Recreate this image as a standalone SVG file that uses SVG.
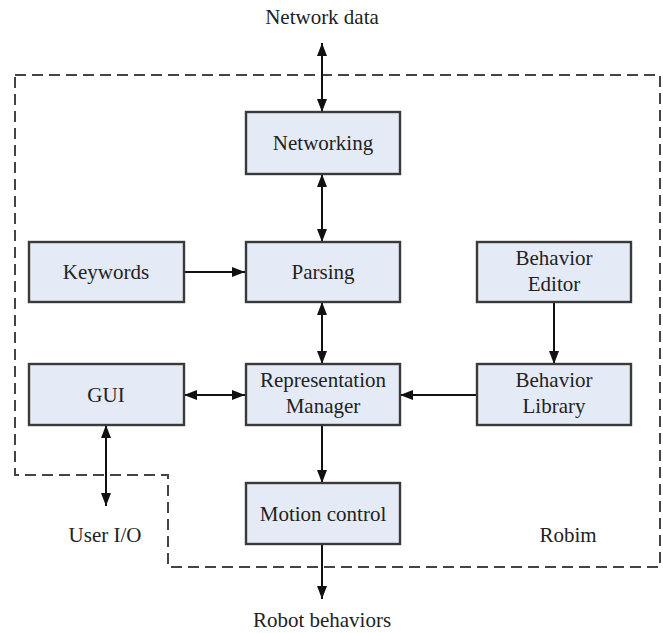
<svg xmlns="http://www.w3.org/2000/svg" width="663" height="633" viewBox="0 0 663 633">
<style>
.box{fill:#e5ebf6;stroke:#3a3a3a;stroke-width:2.4}
.t{font-family:"Times New Roman","Liberation Serif","DejaVu Serif",serif;font-size:21px;fill:#222;text-anchor:middle}
.c{stroke:#111;stroke-width:2;fill:none}
.d{stroke:#444;stroke-width:2;fill:none;stroke-dasharray:11 6}
</style>
<defs>
<marker id="ah" viewBox="0 0 13 10" refX="13" refY="5" markerWidth="13" markerHeight="10" markerUnits="userSpaceOnUse" orient="auto-start-reverse">
<path d="M0,0 L13,5 L0,10 z" fill="#111"/>
</marker>
</defs>
<rect width="663" height="633" fill="#fff"/>
<path class="d" d="M15,75 H660 V567 H168 V475 H15 Z"/>
<g id="connectors">
<line class="c" x1="322" y1="43" x2="322" y2="112" marker-start="url(#ah)" marker-end="url(#ah)"/>
<line class="c" x1="322" y1="174" x2="322" y2="242" marker-start="url(#ah)" marker-end="url(#ah)"/>
<line class="c" x1="184" y1="272" x2="245" y2="272" marker-end="url(#ah)"/>
<line class="c" x1="322" y1="302" x2="322" y2="364" marker-start="url(#ah)" marker-end="url(#ah)"/>
<line class="c" x1="554" y1="302" x2="554" y2="364" marker-end="url(#ah)"/>
<line class="c" x1="477" y1="395" x2="400" y2="395" marker-end="url(#ah)"/>
<line class="c" x1="184" y1="395" x2="245" y2="395" marker-start="url(#ah)" marker-end="url(#ah)"/>
<line class="c" x1="106" y1="425" x2="106" y2="506" marker-start="url(#ah)" marker-end="url(#ah)"/>
<line class="c" x1="322" y1="425" x2="322" y2="483" marker-end="url(#ah)"/>
<line class="c" x1="322" y1="544" x2="322" y2="599" marker-end="url(#ah)"/>
</g>
<g font-family="Times New Roman, Liberation Serif, serif">
<g id="networking"><rect class="box" x="246" y="112" width="154" height="62"/><text class="t" x="323" y="150">Networking</text></g>
<g id="keywords"><rect class="box" x="29" y="242" width="155" height="60"/><text class="t" x="106" y="279">Keywords</text></g>
<g id="parsing"><rect class="box" x="246" y="242" width="154" height="60"/><text class="t" x="323" y="279">Parsing</text></g>
<g id="behavior-editor"><rect class="box" x="477" y="242" width="154" height="60"/><text class="t" x="554" y="265">Behavior</text><text class="t" x="554" y="291">Editor</text></g>
<g id="gui"><rect class="box" x="29" y="364" width="155" height="61"/><text class="t" x="106" y="402">GUI</text></g>
<g id="representation-manager"><rect class="box" x="246" y="364" width="154" height="61"/><text class="t" x="323" y="387">Representation</text><text class="t" x="323" y="413">Manager</text></g>
<g id="behavior-library"><rect class="box" x="477" y="364" width="154" height="61"/><text class="t" x="554" y="387">Behavior</text><text class="t" x="554" y="413">Library</text></g>
<g id="motion-control"><rect class="box" x="246" y="483" width="154" height="61"/><text class="t" x="323" y="521">Motion control</text></g>
<text class="t" x="322" y="24">Network data</text>
<text class="t" x="105" y="542">User I/O</text>
<text class="t" x="568" y="542">Robim</text>
<text class="t" x="322" y="627">Robot behaviors</text>
</g>
</svg>
